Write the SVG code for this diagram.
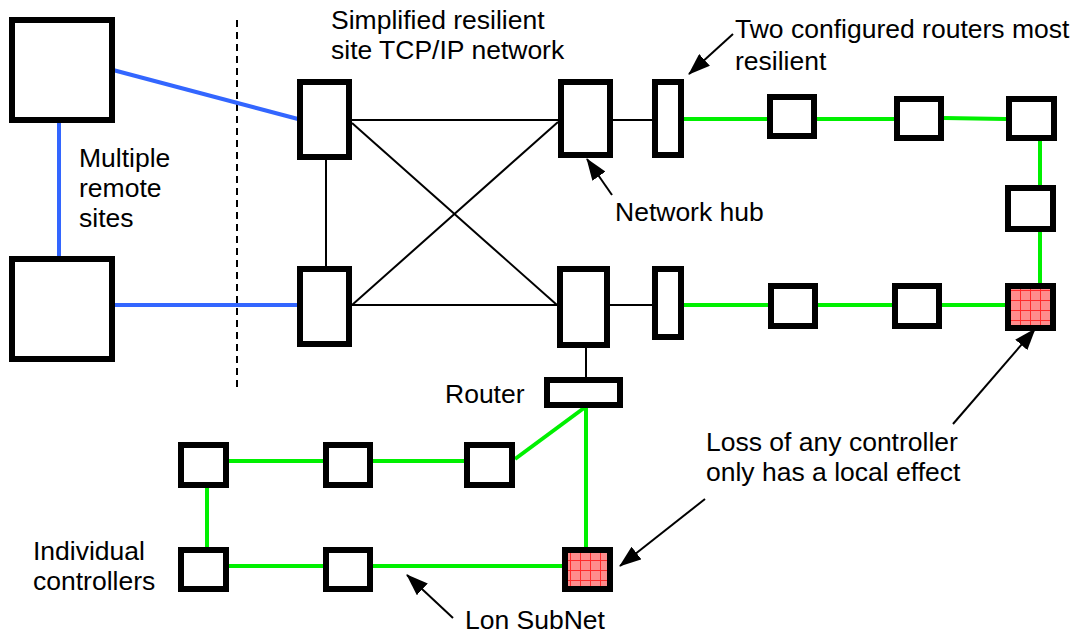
<svg xmlns="http://www.w3.org/2000/svg" width="1076" height="633" viewBox="0 0 1076 633">
<style>
.box{fill:#fff;stroke:#000;stroke-width:6}
.bad{fill:url(#grid);stroke:#000;stroke-width:6}
.blue{stroke:#3366ff;stroke-width:4;fill:none}
.green{stroke:#00f000;stroke-width:4;fill:none}
.thin{stroke:#000;stroke-width:2;fill:none}
.arr{stroke:#000;stroke-width:2;fill:none;marker-end:url(#ah)}
text{font-family:"Liberation Sans",Arial,sans-serif;font-size:26.5px;fill:#000}
</style>
<defs>
<pattern id="grid" patternUnits="userSpaceOnUse" x="0" y="0" width="10" height="10">
<rect width="10" height="10" fill="#ff8c8c"/>
<path d="M0 0.5H10M0.5 0V10" stroke="#ff2a2a" stroke-width="1"/>
</pattern>
<marker id="ah" viewBox="0 0 22 16" refX="21" refY="8" markerWidth="22" markerHeight="16" orient="auto" markerUnits="userSpaceOnUse">
<path d="M0 0L22 8L0 16z" fill="#000"/>
</marker>
</defs>
<g id="connectors">
<line class="thin" x1="237" y1="20" x2="237" y2="392" stroke-dasharray="7,5"/>
<line class="blue" x1="59" y1="123" x2="59" y2="259"/>
<line class="blue" x1="113" y1="70" x2="298" y2="119"/>
<line class="blue" x1="113" y1="305" x2="298" y2="305"/>
<line class="thin" x1="352" y1="120" x2="558" y2="120"/>
<line class="thin" x1="352" y1="305" x2="557" y2="305"/>
<line class="thin" x1="326" y1="160" x2="326" y2="266"/>
<line class="thin" x1="352" y1="123" x2="557" y2="305"/>
<line class="thin" x1="352" y1="305" x2="558" y2="122"/>
<line class="thin" x1="613" y1="120" x2="652" y2="120"/>
<line class="thin" x1="609" y1="305" x2="655" y2="305"/>
<line class="thin" x1="586" y1="348" x2="586" y2="377"/>
<line class="green" x1="684" y1="119" x2="767" y2="119"/>
<line class="green" x1="817" y1="119" x2="894" y2="119"/>
<line class="green" x1="944" y1="118" x2="1006" y2="119"/>
<line class="green" x1="1040" y1="141" x2="1040" y2="185"/>
<line class="green" x1="1040" y1="232" x2="1040" y2="283"/>
<line class="green" x1="684" y1="305" x2="768" y2="305"/>
<line class="green" x1="818" y1="305" x2="892" y2="305"/>
<line class="green" x1="942" y1="305" x2="1005" y2="305"/>
<line class="green" x1="229" y1="461" x2="323" y2="461"/>
<line class="green" x1="373" y1="461" x2="464" y2="461"/>
<line class="green" x1="515" y1="459" x2="584" y2="408"/>
<line class="green" x1="586" y1="408" x2="586" y2="547"/>
<line class="green" x1="229" y1="566" x2="323" y2="566"/>
<line class="green" x1="373" y1="566" x2="562" y2="566"/>
<line class="green" x1="207" y1="488" x2="207" y2="547"/>
<line class="arr" x1="733" y1="34" x2="689" y2="74"/>
<line class="arr" x1="612" y1="195" x2="587" y2="159"/>
<line class="arr" x1="953" y1="424" x2="1035" y2="329"/>
<line class="arr" x1="705" y1="499" x2="620" y2="566"/>
<line class="arr" x1="453" y1="618" x2="407" y2="575"/>
</g>
<g id="remote1"><rect class="box" x="12" y="20" width="100" height="100"/></g>
<g id="remote2"><rect class="box" x="12" y="259" width="100" height="100"/></g>
<g id="tcp1"><rect class="box" x="300" y="82" width="49" height="75"/></g>
<g id="tcp2"><rect class="box" x="300" y="269" width="49" height="75"/></g>
<g id="hub1"><rect class="box" x="561" y="82" width="49" height="73"/></g>
<g id="hub2"><rect class="box" x="560" y="269" width="47" height="76"/></g>
<g id="router1"><rect class="box" x="655" y="82" width="26" height="73"/></g>
<g id="router2"><rect class="box" x="655" y="269" width="26" height="68"/></g>
<g id="c1"><rect class="box" x="770" y="97" width="44" height="39"/></g>
<g id="c2"><rect class="box" x="897" y="99" width="44" height="39"/></g>
<g id="c3"><rect class="box" x="1009" y="99" width="45" height="39"/></g>
<g id="c4"><rect class="box" x="1008" y="188" width="45" height="41"/></g>
<g id="c5"><rect class="bad" x="1008" y="286" width="45" height="42"/></g>
<g id="c6"><rect class="box" x="771" y="286" width="44" height="40"/></g>
<g id="c7"><rect class="box" x="895" y="286" width="44" height="40"/></g>
<g id="lonrouter"><rect class="box" x="547" y="380" width="73" height="25"/></g>
<g id="l1"><rect class="box" x="181" y="445" width="45" height="40"/></g>
<g id="l2"><rect class="box" x="326" y="445" width="44" height="40"/></g>
<g id="l3"><rect class="box" x="467" y="445" width="45" height="40"/></g>
<g id="l4"><rect class="box" x="181" y="550" width="45" height="39"/></g>
<g id="l5"><rect class="box" x="326" y="550" width="44" height="39"/></g>
<g id="l6"><rect class="bad" x="565" y="550" width="45" height="39"/></g>
<g id="labels">
<text x="331" y="29">Simplified resilient</text>
<text x="331" y="59">site TCP/IP network</text>
<text x="735" y="38">Two configured routers most</text>
<text x="735" y="70">resilient</text>
<text x="79" y="167">Multiple</text>
<text x="79" y="197">remote</text>
<text x="79" y="227">sites</text>
<text x="615" y="221">Network hub</text>
<text x="445" y="403">Router</text>
<text x="706" y="451">Loss of any controller</text>
<text x="706" y="481">only has a local effect</text>
<text x="33" y="560">Individual</text>
<text x="33" y="590">controllers</text>
<text x="465" y="629">Lon SubNet</text>
</g>
</svg>
